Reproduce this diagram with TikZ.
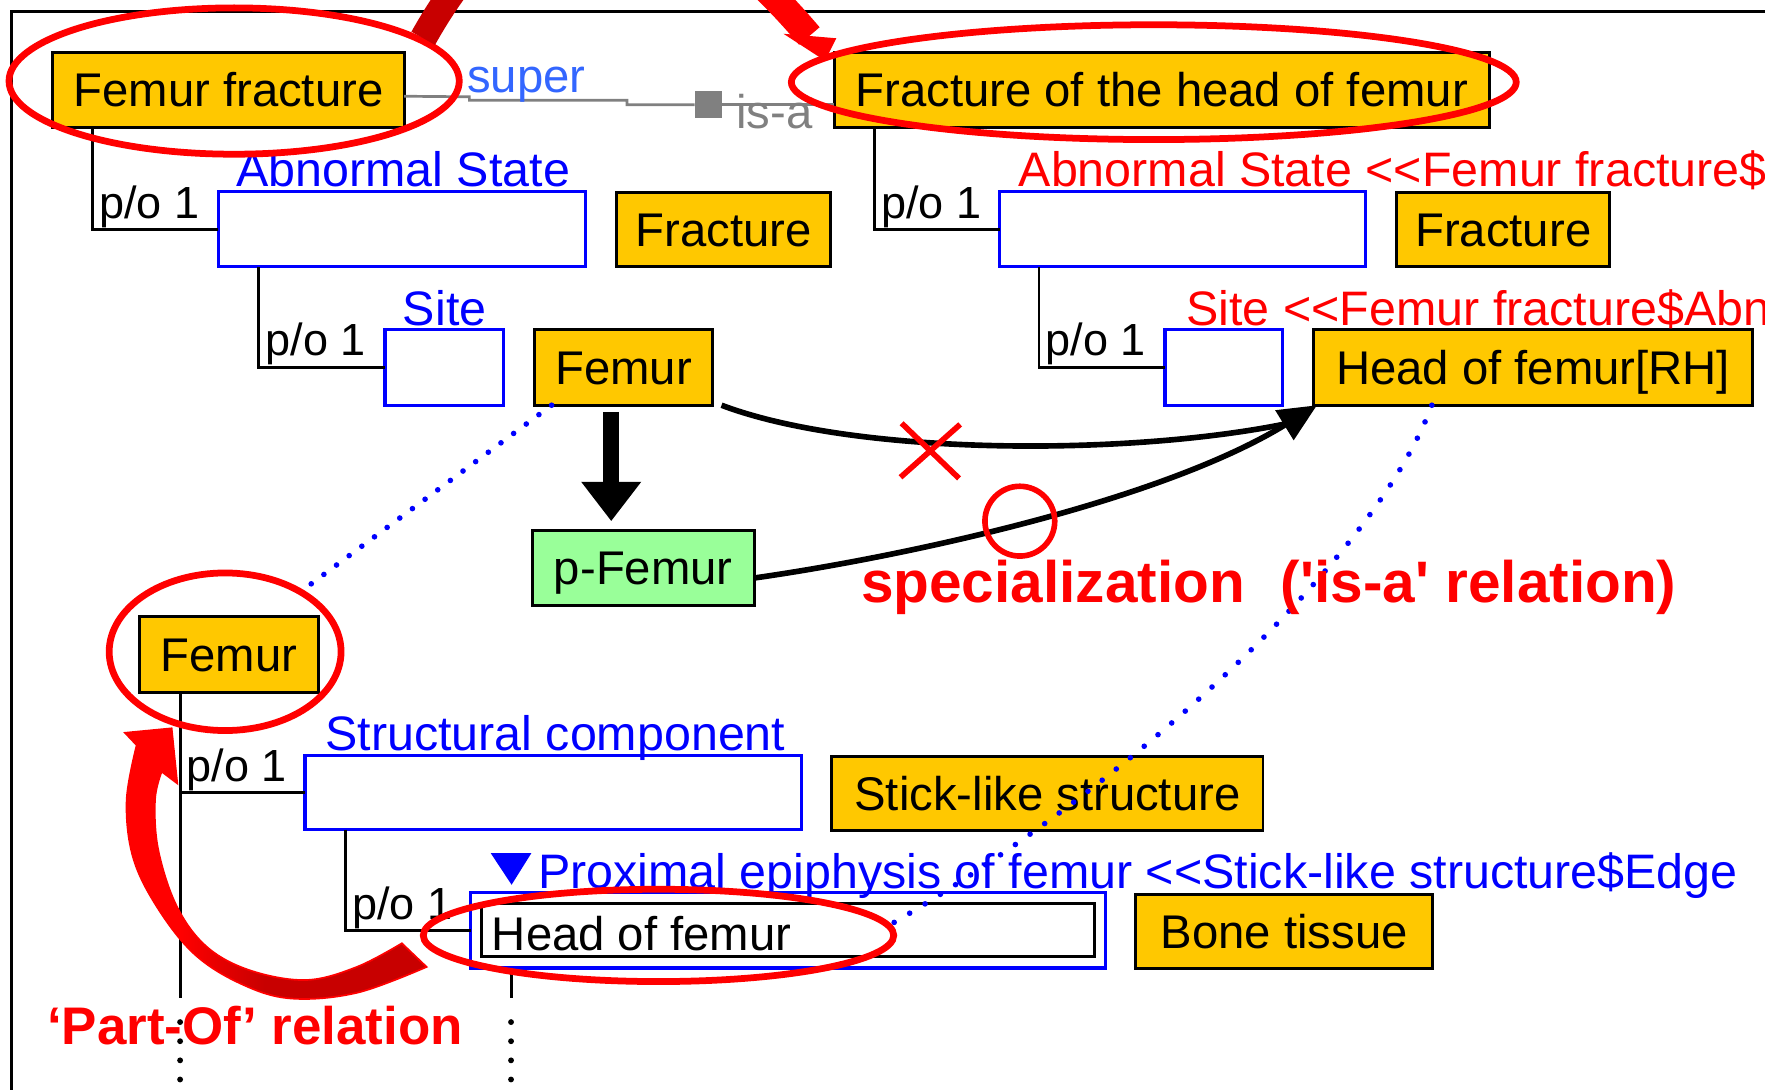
\documentclass[tikz,border=0pt]{standalone}
\usepackage{fontspec}
\setmainfont{Liberation Sans}
\usetikzlibrary{arrows.meta}
\definecolor{boxorange}{RGB}{255,200,0}
\definecolor{boxgreen}{RGB}{153,255,153}
\definecolor{slotblue}{RGB}{0,0,255}
\definecolor{superblue}{RGB}{51,102,255}
\definecolor{markred}{RGB}{255,0,0}
\definecolor{markdark}{RGB}{200,0,0}
\definecolor{linkgray}{RGB}{128,128,128}
\newcommand\ltt{\mbox{<}}
\newcommand\boxfont{\fontsize{42}{48}\selectfont}
\newcommand\slotfont{\fontsize{43}{49}\selectfont}

\begin{document}
\begin{tikzpicture}[x=1pt,y=-1pt,
  every node/.style={inner sep=0pt, outer sep=0pt},
  lbl/.style={font=\boxfont},
  cls/.style={lbl, draw=black, line width=2.6pt, fill=boxorange, anchor=north west,
              text height=30pt, text depth=0pt},
  slot/.style={draw=slotblue, line width=2.8pt, fill=white, anchor=north west},
  slotlbl/.style={font=\slotfont, anchor=base west},
  tree/.style={line width=2.6pt, black},
  po/.style={font=\fontsize{40}{46}\selectfont, anchor=base west},
  link/.style={line width=2.4pt, linkgray},
  dotline/.style={slotblue, line width=5pt, line cap=round, dash pattern=on 0pt off 14pt},
  conn/.style={line width=5pt, black},
  redring/.style={markred, line width=6pt},
]
\useasboundingbox (0,0) rectangle (1568,968);
\clip (0,0) rectangle (1568,968);
\fill[white] (0,0) rectangle (1568,968);

% window frame
\draw[line width=3pt] (10,968) -- (10,10) -- (1568,10);

% concept frames
\node[cls, minimum width=312pt, minimum height=66pt] (ff) at (47,47) {Femur fracture};
\node[cls, minimum width=582pt, minimum height=66pt] (fhf) at (741,47) {Fracture of the head of femur};
\node[slot, minimum width=326pt, minimum height=67pt] (as1) at (194,170) {};
\node[cls, minimum width=190pt, minimum height=66pt] (fr1) at (548,171) {Fracture};
\node[slot, minimum width=105pt, minimum height=67pt] (site1) at (342,293) {};
\node[cls, minimum width=158pt, minimum height=67pt] (femur1) at (475,293) {Femur};
\node[slot, minimum width=325pt, minimum height=67pt] (as2) at (888,170) {};
\node[cls, minimum width=189pt, minimum height=66pt] (fr2) at (1241,171) {Fracture};
\node[slot, minimum width=104pt, minimum height=67pt] (site2) at (1035,293) {};
\node[cls, minimum width=390pt, minimum height=67pt] (hrh) at (1167,293) {Head of femur[RH]};
\node[cls, fill=boxgreen, minimum width=197pt, minimum height=67pt] (pfemur) at (473,471) {p-Femur};
\node[cls, minimum width=159pt, minimum height=67pt] (femur2) at (124,548) {Femur};
\node[slot, minimum width=441pt, minimum height=66pt] (sc) at (271,671) {};
\node[cls, minimum width=383pt, minimum height=66pt] (stick) at (739,672) {Stick-like structure};
\node[slot, minimum width=564pt, minimum height=67pt] (pe) at (418,793) {};
\node[draw=black, line width=2.6pt, fill=white, anchor=north west,
      minimum width=544pt, minimum height=47pt] (hof) at (428,803) {};
\node[lbl, anchor=base west] (hoftext) at (437,844) {Head of femur};
\node[cls, minimum width=264pt, minimum height=65pt] (bone) at (1009,795) {Bone tissue};

% slot labels
\node[slotlbl, text=slotblue] (as1lbl) at ([xshift=16pt,yshift=4pt]as1.north west) {Abnormal State};
\node[slotlbl, text=slotblue] (site1lbl) at ([xshift=16pt,yshift=4pt]site1.north west) {Site};
\node[slotlbl, text=markred] (as2lbl) at ([xshift=17pt,yshift=4pt]as2.north west)
  {Abnormal State \ltt\ltt Femur fracture\$Abnormal State};
\node[slotlbl, text=markred] (site2lbl) at ([xshift=19pt,yshift=4pt]site2.north west)
  {Site \ltt\ltt Femur fracture\$Abnormal State};
\node[slotlbl, text=slotblue] (sclbl) at ([xshift=18pt,yshift=4pt]sc.north west) {Structural component};
\node[slotlbl, text=slotblue] (pelbl) at ([xshift=60pt,yshift=4pt]pe.north west)
  {Proximal epiphysis of femur \ltt\ltt Stick-like structure\$Edge};
\fill[slotblue] (436,758) -- (472,758) -- (454.5,786) -- cycle;

% part-of trees
\draw[tree] ([xshift=35pt]ff.south west) |- (as1.west);
\draw[tree] ([xshift=36pt]as1.south west) |- (site1.west);
\draw[tree] ([xshift=36pt]fhf.south west) |- (as2.west);
\draw[tree] ([xshift=35pt]as2.south west) |- (site2.west);
\draw[tree] ([xshift=36pt]femur2.south west) coordinate (trunk) -- ++(0,272) coordinate (trunkend);
\draw[tree] (trunk |- sc.west) -- (sc.west);
\draw[tree] ([xshift=36pt]sc.south west) |- (pe.west);
\draw[tree] ([xshift=36pt]pe.south west) coordinate (stem) -- ++(0,27) coordinate (stemend);
\foreach \d in {21,38,55,72} {
  \fill (trunkend) ++(0,\d) circle[radius=2.6pt];
  \fill (stemend) ++(0,\d) circle[radius=2.6pt];
}
\node[po] (po1) at (88,194) {p/o 1};
\node[po] (po2) at (236,316) {p/o 1};
\node[po] (po3) at (783,194) {p/o 1};
\node[po] (po4) at (929,316) {p/o 1};
\node[po] (po5) at (166,694) {p/o 1};
\node[po] (po6) at (313,817) {p/o 1};

% super / is-a link
\node[fill=linkgray, minimum width=24pt, minimum height=24pt] (sq) at (629,93) {};
\draw[link] ([yshift=-5.5pt]ff.east) -- (417,86) -- (417,89) -- (557,89) -- (557,93) -- (sq.west);
\draw[link] (sq.east) -- (sq.east -| fhf.west);
\node[lbl, text=superblue, anchor=base west] (superlbl) at (415,82) {super};
\node[lbl, text=linkgray, anchor=base west] (isalbl) at (654,114) {is-a};

% derivation of p-Femur
\path ([xshift=-11pt]femur1.south) coordinate (fa);
\draw[black, line width=14.5pt, shorten >=8pt, -{Triangle[length=35pt,width=51pt]}]
  (fa) ++(0,6) -- (fa |- pfemur.north);

% references to the head of femur
\coordinate (merge) at (1140,377);
\draw[conn] ([xshift=8pt]femur1.south east) .. controls (760,405) and (1000,405) .. (merge);
\draw[conn, -{Triangle[length=34pt,width=30pt]}]
  ([yshift=-9pt]pfemur.east) .. controls (800,495) and (1030,446) .. ([xshift=3pt]hrh.south west);

% correspondence links
\coordinate (femur2top) at (272,522);
\coordinate (hofend) at (790,822);
\draw[dotline] ([xshift=15pt]femur1.south west) -- (femur2top);
\draw[dotline, dash pattern=on 0pt off 16pt] ([xshift=105pt]hrh.south west)
  .. controls (1220,500) and (1000,700) .. (hofend);

% red annotations
\draw[redring] (208,72) ellipse [x radius=200pt, y radius=65pt];
\draw[redring] (1025,73) ellipse [x radius=322pt, y radius=51pt];
\draw[redring] (200,579) ellipse [x radius=103pt, y radius=70pt];
\draw[redring] (585,831) ellipse [x radius=209pt, y radius=41pt];
\draw[markred, line width=5pt] (801,376) -- (852,425) (853,377) -- (800,424);
\draw[markred, line width=5pt] (906,463) ellipse [x radius=31pt, y radius=31pt];

% is-a arrow between the two fractures
\begin{scope}
  \clip (300,-200) rectangle (545,80);
  \draw[markdark, line width=24pt] (376,34) .. controls (471,-136) and (590,-120) .. (719,32);
\end{scope}
\begin{scope}
  \clip (545,-200) rectangle (800,80);
  \draw[markred, line width=24pt] (376,34) .. controls (471,-136) and (590,-120) .. (719,32);
\end{scope}
\fill[markred] (696,30) -- (743,34) -- (733,54) -- cycle;

% part-of arrow
\path[save path=\partofpath]
  plot[smooth, tension=0.6] coordinates {(379,859) (317,882) (258,887) (213,873.5) (172,847)
     (139,805) (118,761) (112.5,711) (121.4,662)}
  -- (111,651) -- (152.5,647) -- (157.5,696) -- (143.6,685.5)
  -- plot[smooth, tension=0.6] coordinates {(143.6,685.5) (137.7,710.7) (140.6,755) (157,805)
     (183.6,841) (222,862) (272,870.6) (317,859) (357,838)}
  -- cycle;
\fill[markred, use path=\partofpath];
\begin{scope}
  \clip[use path=\partofpath];
  \shade[left color=markred, right color=markdark] (160,760) rectangle (235,900);
  \fill[markdark] (235,760) rectangle (400,900);
\end{scope}
\draw[markred, line width=1.5pt, use path=\partofpath];

% captions
\node[font=\bfseries\fontsize{52}{60}\selectfont, text=markred, anchor=base west] (speclbl) at (765,535)
  {specialization\hspace{32pt}(\textquotesingle is-a\textquotesingle{} relation)};
\node[font=\bfseries\fontsize{47}{54}\selectfont, text=markred, anchor=base west] (partoflbl) at (42,928)
  {‘Part-Of’ relation};
\end{tikzpicture}
\end{document}
